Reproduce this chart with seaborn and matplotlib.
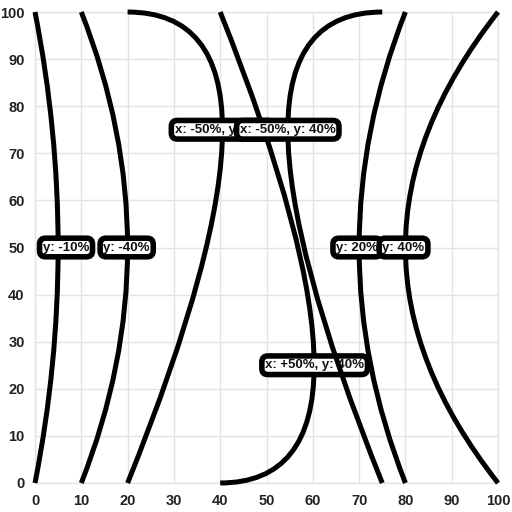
import matplotlib
matplotlib.use("Agg")
import matplotlib.pyplot as plt
from matplotlib.path import Path
from matplotlib.patches import PathPatch
import seaborn as sns

# Each curve: start point, quadratic control point, end point, label text, label position
starts = [(0, 0), (10, 0), (20, 0), (40, 0), (75, 100), (80, 0), (100, 0)]
controls = [(10, 50), (30, 50), (61, 100), (80.6, 0), (34.2, 100), (60, 50), (60, 50)]
ends = [(0, 100), (10, 100), (20, 100), (40, 100), (75, 0), (80, 100), (100, 100)]
labels = ["y: -10%", "y: -40%", "x: -50%, y: 40%", "x: +50%, y: 40%",
          "x: -50%, y: 40%", "y: 20%", "y: 40%"]
label_x = [6.7, 19.8, 40.5, 60.4, 54.6, 69.6, 79.6]
label_y = [50, 50, 75, 25, 75, 50, 50]

ticks = list(range(0, 101, 10))

sns.set_theme(style="whitegrid")
plt.rcParams['font.family'] = ['Liberation Sans', 'DejaVu Sans']

fig = plt.figure(figsize=(5.12, 5.12), dpi=100)
ax = fig.add_axes([35 / 512, 29 / 512, 463 / 512, 471 / 512])

ax.set_xlim(0, 100)
ax.set_ylim(0, 100)
ax.set_xticks(ticks)
ax.set_yticks(ticks)
ax.grid(True, color="#e3e3e3", linewidth=1)
for sp in ax.spines.values():
    sp.set_color("#e3e3e3")
    sp.set_linewidth(1)
ax.tick_params(axis="x", length=5, width=1, color="#e3e3e3", pad=3,
               labelsize=10.5, labelcolor="#222222")
ax.tick_params(axis="y", length=2.5, width=1, color="#e3e3e3", pad=5,
               labelsize=10.5, labelcolor="#222222")
for lab in ax.get_xticklabels() + ax.get_yticklabels():
    lab.set_fontweight("bold")

# draw curves and their labels in the order the annotations are stacked
for z in range(len(starts)):
    path = Path([starts[z], controls[z], ends[z]],
                [Path.MOVETO, Path.CURVE3, Path.CURVE3])
    patch = PathPatch(path, facecolor="none", edgecolor="black", linewidth=3.6,
                      capstyle="butt", clip_on=False, zorder=3 + 2 * z)
    ax.add_patch(patch)
    ax.text(label_x[z], label_y[z], labels[z], ha="center", va="center",
            fontsize=9.5, fontweight="bold", color="#111111", zorder=4 + 2 * z,
            bbox=dict(boxstyle="round,pad=0.25,rounding_size=0.45",
                      facecolor="white", edgecolor="black", linewidth=4))

fig.savefig("out.png", dpi=100)
